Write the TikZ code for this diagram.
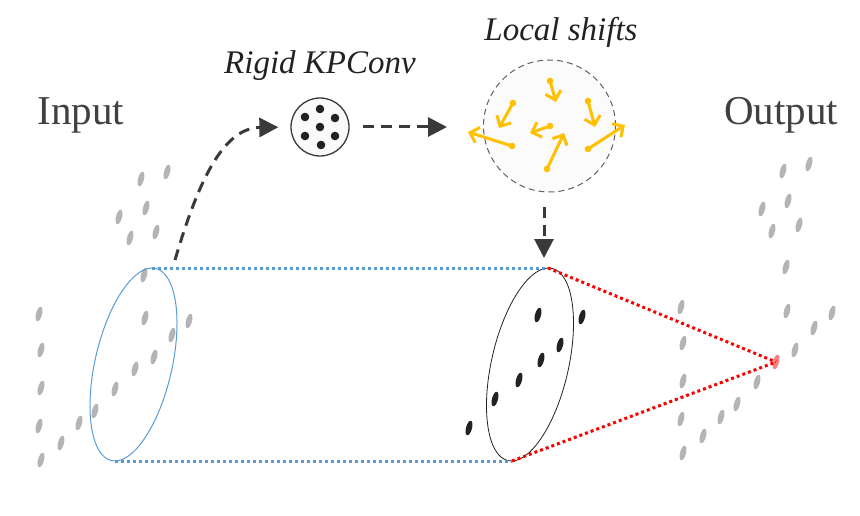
\documentclass[tikz,border=0pt]{standalone}
\usepackage{fontspec}
\setmainfont{Liberation Serif}
\usetikzlibrary{arrows.meta}

\definecolor{ptgray}{HTML}{B4B4B4}
\definecolor{ptdark}{HTML}{222222}
\definecolor{arrgray}{HTML}{3A3A3A}
\definecolor{lineblue}{HTML}{5B9BD5}
\definecolor{shiftyellow}{HTML}{FFC000}
\definecolor{txtgray}{HTML}{404040}

\begin{document}
\begin{tikzpicture}[x=1pt,y=1pt,
		pt/.style={fill=ptgray},
		ptblack/.style={fill=ptdark},
		titletext/.style={text=txtgray, font=\fontsize{41}{41}\selectfont, anchor=base},
		captext/.style={text=ptdark, font=\itshape\fontsize{33}{33}\selectfont, anchor=base},
		dasharrow/.style={draw=arrgray, line width=3pt, dash pattern=on 11pt off 7pt, -{Triangle[length=19pt,width=19pt]}},
		shiftarrow/.style={draw=shiftyellow, line width=3pt, -{Straight Barb[length=8pt,width=16pt]}},
		bluedot/.style={draw=lineblue, line width=3pt, dash pattern=on 3pt off 3pt},
		reddot/.style={draw=red, line width=3pt, dash pattern=on 3pt off 3pt},
	]
	\useasboundingbox (0,0) rectangle (860,-516);

	% titoli
	\node[titletext] (input) at (81,-125) {Input};
	\node[titletext] (output) at (781,-125) {Output};
	\node[captext] (rigid) at (320,-74) {Rigid KPConv};
	\node[captext] (local) at (561,-41) {Local shifts};

	% kernel rigido
	\node[circle, draw=arrgray, line width=1.3pt, fill=black!2, minimum size=58pt, inner sep=0pt] (kp) at (320,-127) {};
	\foreach \x/\y in {320/109, 305/117, 335/118, 320/127, 305/136, 335/136, 321/145}
		\fill[ptdark] (\x,-\y) circle (4.3);

	% spostamenti locali
	\node[circle, draw=arrgray!80, line width=1pt, dash pattern=on 6pt off 4pt, fill=black!1.5, minimum size=132pt, inner sep=0pt] (ls) at (549.5,-126) {};
	\foreach \sx/\sy/\ex/\ey in {550/81/556/102, 513/103/499/128, 588/101/595/127, 550/126/530/133, 512/146/468/132, 547/169/564/133, 588/149/625/125} {
		\fill[shiftyellow] (\sx,-\sy) circle (3.3);
		\draw[shiftarrow] (\sx,-\sy) -- (\ex,-\ey);
	}

	% nuvola di ingresso
	\foreach \x/\y in {167/172, 141/179, 146/208, 119/217, 156/232, 130/238, 144/275, 39/314, 145/318, 189/321, 41/350, 172/335, 154/357, 135/369, 41/388, 115/389, 95/411, 39/426, 79/423, 61/443, 41/460}
		\fill[pt] (\x,-\y) ellipse [x radius=3, y radius=7.5, rotate=-15];

	% nuvola di uscita
	\foreach \x/\y in {809/164, 783/171, 788/201, 762/209, 799/225, 772/231, 786/267, 681/307, 787/311, 832/313, 683/343, 814/328, 795/350, 683/381, 757/382, 737/404, 681/419, 721/417, 703/436, 683/453}
		\fill[pt] (\x,-\y) ellipse [x radius=3, y radius=7.5, rotate=-15];

	% punti vicini
	\foreach \x/\y in {538/315, 582/317, 560/345, 541/360, 519/380, 495/399, 469/428}
		\fill[ptblack] (\x,-\y) ellipse [x radius=3, y radius=7.5, rotate=-15];

	% cilindro
	\draw[lineblue, line width=1pt] (133.5,-364.5) ellipse [x radius=38.5, y radius=98.6, rotate=-12.9];
	\draw[ptdark, line width=0.8pt] (530,-364.5) ellipse [x radius=38.5, y radius=98.6, rotate=-12.9];
	\coordinate (bT) at (152,-268);
	\coordinate (bB) at (115,-461);
	\coordinate (kT) at (548,-268);
	\coordinate (kB) at (512,-461);
	\draw[bluedot] (bT) -- (kT);
	\draw[bluedot] (bB) -- (kB);

	% punto di uscita
	\fill[red!50] (776,-362) ellipse [x radius=3, y radius=7.5, rotate=-15];
	\coordinate (rp) at (776,-362);
	\draw[reddot] (kT) -- (rp);
	\draw[reddot] (kB) -- (rp);

	% frecce
	\coordinate (a0) at (175,-260);
	\draw[dasharrow, shorten >=12pt] (a0) .. controls (200,-175) and (225,-128) .. (kp.west); % da ingresso a kernel
	\draw[dasharrow, shorten <=13pt, shorten >=36pt] (kp.east) -- (ls.west |- kp.east); % da kernel a spostamenti
	\coordinate (d0) at (544,-207);
	\coordinate (d1) at (544,-258);
	\draw[dasharrow] (d0) -- (d1); % da spostamenti a cilindro
\end{tikzpicture}
\end{document}
